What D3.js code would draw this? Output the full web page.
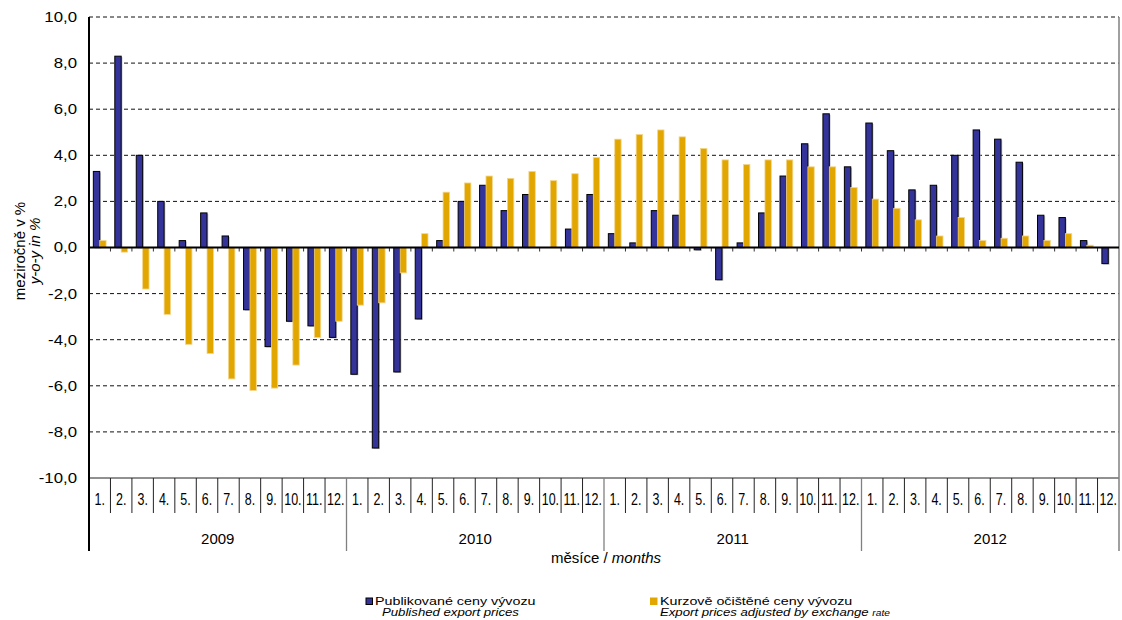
<!DOCTYPE html>
<html>
<head>
<meta charset="utf-8">
<script src="https://cdn.jsdelivr.net/npm/d3@7"></script>
<style>
  html, body { margin: 0; padding: 0; background: #fff; }
  svg { display: block; font-family: "Liberation Sans", Arial, sans-serif; }
</style>
</head>
<body>
<svg id="chart" width="1122" height="620"></svg>
<script>
// ---- data ----
const years = ["2009", "2010", "2011", "2012"];
const months = ["1.", "2.", "3.", "4.", "5.", "6.", "7.", "8.", "9.", "10.", "11.", "12."];
const published = [
  3.3, 8.3, 4.0, 2.0, 0.3, 1.5, 0.5, -2.7, -4.3, -3.2, -3.4, -3.9,
  -5.5, -8.7, -5.4, -3.1, 0.3, 2.0, 2.7, 1.6, 2.3, 0.0, 0.8, 2.3,
  0.6, 0.2, 1.6, 1.4, -0.1, -1.4, 0.2, 1.5, 3.1, 4.5, 5.8, 3.5,
  5.4, 4.2, 2.5, 2.7, 4.0, 5.1, 4.7, 3.7, 1.4, 1.3, 0.3, -0.7
];
const adjusted = [
  0.3, -0.2, -1.8, -2.9, -4.2, -4.6, -5.7, -6.2, -6.1, -5.1, -3.9, -3.2,
  -2.5, -2.4, -1.1, 0.6, 2.4, 2.8, 3.1, 3.0, 3.3, 2.9, 3.2, 3.9,
  4.7, 4.9, 5.1, 4.8, 4.3, 3.8, 3.6, 3.8, 3.8, 3.5, 3.5, 2.6,
  2.1, 1.7, 1.2, 0.5, 1.3, 0.3, 0.4, 0.5, 0.3, 0.6, 0.1, 0.0
];
const yTicks = [-10, -8, -6, -4, -2, 0, 2, 4, 6, 8, 10];
const seriesNames = ["published", "adjusted"];
const legendCz = ["Publikované ceny vývozu", "Kurzově očištěné ceny vývozu"];
const legendEn = ["Published export prices", "Export prices adjusted by exchange "];

(function () {
// ---- setup ----
const svg = d3.select("#chart");
const PL = 89, PR = 1119, PT = 17, PB = 478;
const BLUE = "#333399", ORANGE = "#E2A600";

const cats = [];
years.forEach(yr => months.forEach(m => cats.push(yr + "-" + m)));
const rows = cats.map((c, i) => ({ key: c, month: months[i % 12], published: published[i], adjusted: adjusted[i] }));

const x = d3.scaleBand().domain(cats).range([PL, PR]).padding(0);
const xs = d3.scaleBand().domain(seriesNames).range([0, x.bandwidth()]).paddingInner(0).paddingOuter(0.68);
const y = d3.scaleLinear().domain([-10, 10]).range([PB, PT]);

const fmt = d3.formatLocale({ decimal: ",", thousands: " ", grouping: [3], currency: ["", ""], minus: "-" }).format(".1f");

function stretchText(g, tx, ty, str, size, sx, anchor, italic) {
  return g.append("text")
    .attr("transform", `translate(${tx},${ty}) scale(${sx},1)`)
    .attr("text-anchor", anchor || "start")
    .attr("font-size", size)
    .attr("font-style", italic ? "italic" : "normal")
    .attr("fill", "#000")
    .text(str);
}

// ---- gridlines ----
svg.append("g").selectAll("line").data(yTicks.filter(t => t !== 0 && t !== -10)).join("line")
  .attr("x1", PL).attr("x2", PR)
  .attr("y1", d => y(d)).attr("y2", d => y(d))
  .attr("stroke", "#111").attr("stroke-width", 1).attr("stroke-dasharray", "4,3");

svg.append("line").attr("x1", PL).attr("x2", PR).attr("y1", y(-10)).attr("y2", y(-10))
  .attr("stroke", "#222").attr("stroke-width", 1);

svg.append("line").attr("x1", PR).attr("x2", PR).attr("y1", y(10)).attr("y2", 551)
  .attr("stroke", "#808080").attr("stroke-width", 1.5);

// ---- bars ----
const barG = svg.append("g");
barG.selectAll("rect.sh").data(rows.filter(d => d.published !== 0)).join("rect")
  .attr("class", "sh")
  .attr("x", d => x(d.key) + xs("published") + 1.3)
  .attr("y", d => Math.min(y(d.published), y(0)) + 1)
  .attr("width", xs.bandwidth())
  .attr("height", d => Math.abs(y(d.published) - y(0)))
  .attr("fill", "#9a9a9a").attr("opacity", 0.55);

barG.selectAll("rect.pub").data(rows.filter(d => d.published !== 0)).join("rect")
  .attr("class", "pub")
  .attr("x", d => x(d.key) + xs("published"))
  .attr("y", d => Math.min(y(d.published), y(0)))
  .attr("width", xs.bandwidth())
  .attr("height", d => Math.abs(y(d.published) - y(0)))
  .attr("fill", BLUE).attr("stroke", "#000").attr("stroke-width", 1);

barG.selectAll("rect.adj").data(rows.filter(d => d.adjusted !== 0)).join("rect")
  .attr("class", "adj")
  .attr("x", d => x(d.key) + xs("adjusted"))
  .attr("y", d => Math.min(y(d.adjusted), y(0)))
  .attr("width", xs.bandwidth())
  .attr("height", d => Math.abs(y(d.adjusted) - y(0)))
  .attr("fill", ORANGE).attr("stroke", "#F3D58A").attr("stroke-width", 0.8);

// ---- zero axis with ticks ----
const zeroAxis = d3.axisBottom(x).tickValues(cats.slice(1)).tickSize(0).tickFormat("");
svg.append("g").attr("transform", `translate(0,${y(0)})`).call(zeroAxis)
  .call(g => g.select(".domain").remove());
svg.append("g").selectAll("line").data(cats.slice(1)).join("line")
  .attr("x1", d => x(d)).attr("x2", d => x(d))
  .attr("y1", y(0)).attr("y2", y(0) + 4)
  .attr("stroke", "#333").attr("stroke-width", 1);
svg.append("line").attr("x1", PL).attr("x2", PR).attr("y1", y(0)).attr("y2", y(0))
  .attr("stroke", "#000").attr("stroke-width", 2);

// ---- y axis ----
const yAxis = d3.axisLeft(y).tickValues(yTicks).tickSize(0).tickPadding(10).tickFormat(d => fmt(d));
const yg = svg.append("g").attr("transform", `translate(${PL},0)`).call(yAxis);
yg.select(".domain").remove();
yg.selectAll("text")
  .attr("font-size", 14)
  .attr("font-family", "'Liberation Sans', Arial, sans-serif")
  .attr("fill", "#000")
  .attr("transform", "scale(1.2,1)");

svg.append("line").attr("x1", PL).attr("x2", PL).attr("y1", PT).attr("y2", 551)
  .attr("stroke", "#000").attr("stroke-width", 2);

svg.append("text").attr("transform", "translate(25,251) rotate(-90)")
  .attr("text-anchor", "middle").attr("font-size", 15).text("meziročně v %");
svg.append("text").attr("transform", "translate(40,251) rotate(-90)")
  .attr("text-anchor", "middle").attr("font-size", 15).attr("font-style", "italic").text("y-o-y in %");

// ---- category axis ----
const catG = svg.append("g");
catG.selectAll("line.mo").data(cats.slice(1).filter((c, i) => (i + 1) % 12 !== 0)).join("line")
  .attr("class", "mo")
  .attr("x1", d => x(d)).attr("x2", d => x(d))
  .attr("y1", PB).attr("y2", 513)
  .attr("stroke", "#222").attr("stroke-width", 1);
catG.selectAll("line.yr").data(years.slice(1)).join("line")
  .attr("class", "yr")
  .attr("x1", d => x(d + "-1.")).attr("x2", d => x(d + "-1."))
  .attr("y1", PB).attr("y2", 551)
  .attr("stroke", "#808080").attr("stroke-width", 1.3);

rows.forEach(r => {
  stretchText(catG, x(r.key) + x.bandwidth() / 2, 505, r.month, 16, 0.78, "middle", false);
});
years.forEach(yr => {
  const x0 = x(yr + "-1."), x1 = x(yr + "-12.") + x.bandwidth();
  catG.append("text").attr("x", (x0 + x1) / 2).attr("y", 544)
    .attr("text-anchor", "middle").attr("font-size", 15).text(yr);
});

const xt = svg.append("text").attr("x", 606).attr("y", 563).attr("text-anchor", "middle").attr("font-size", 15);
xt.append("tspan").text("měsíce / ");
xt.append("tspan").attr("font-style", "italic").text("months");

// ---- legend ----
const lg = svg.append("g");
lg.append("rect").attr("x", 366).attr("y", 598).attr("width", 6.5).attr("height", 6.5)
  .attr("fill", BLUE).attr("stroke", "#000").attr("stroke-width", 1);
stretchText(lg, 375, 605, legendCz[0], 11, 1.3, "start", false);
stretchText(lg, 382, 616, legendEn[0], 11, 1.2, "start", true);

lg.append("rect").attr("x", 650).attr("y", 597.5).attr("width", 7.5).attr("height", 7.5)
  .attr("fill", ORANGE);
stretchText(lg, 660, 605, legendCz[1], 11, 1.3, "start", false);
const t2 = stretchText(lg, 660, 616, legendEn[1], 11, 1.2, "start", true);
t2.append("tspan").attr("font-size", 8.5).text("rate");
})();
</script>
</body>
</html>
